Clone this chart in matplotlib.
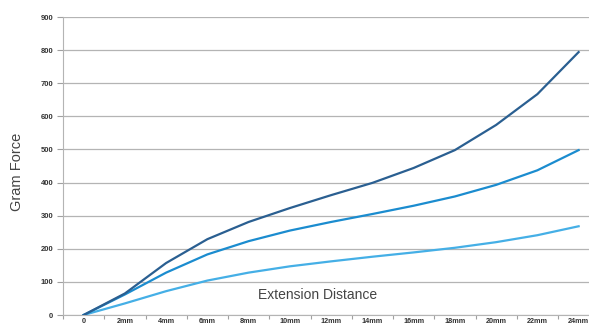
import matplotlib.pyplot as plt
import numpy as np

# extension distance in mm, gram force for the three samples
distance_mm = [0, 2, 4, 6, 8, 10, 12, 14, 16, 18, 20, 22, 24]
tick_labels = ["0"] + [f"{d}mm" for d in distance_mm[1:]]
force_dark = [0, 65, 157, 229, 281, 323, 362, 399, 444, 498, 574, 667, 794]
force_mid = [0, 62, 128, 183, 223, 255, 281, 305, 330, 358, 393, 437, 498]
force_light = [0, 35, 72, 104, 128, 147, 162, 176, 189, 203, 220, 241, 268]

plt.rcParams['font.family'] = ['Liberation Sans', 'DejaVu Sans']

W, H = 589, 327
fig = plt.figure(figsize=(W / 100, H / 100), dpi=100)
# plot area in pixels: left spine at x=63, 0 at y=315, 900 at y=17
x0, y0, y900 = 63, 315, 17
step = (578 - 83) / 12  # pixels per 2mm category
ax = fig.add_axes([x0 / W, (H - y0) / H, 13 * step / W, (y0 - y900) / H])

ax.plot(distance_mm, force_light, color="#45afe6", lw=1.6, zorder=3)
ax.plot(distance_mm, force_mid, color="#1b8ccf", lw=1.6, zorder=3)
ax.plot(distance_mm, force_dark, color="#2a5f91", lw=1.6, zorder=3)

ax.set_xlim(-1, 25)
ax.set_ylim(0, 900)

ax.set_yticks(np.arange(0, 901, 100))
ax.tick_params(axis="y", length=4, width=0.8, color="#a0a0a0", pad=3,
               labelsize=5.5, labelcolor="#333333")
for lbl in ax.get_yticklabels():
    lbl.set_fontweight("bold")
ax.grid(axis="y", color="#b4b4b4", lw=0.9, zorder=0)

# category labels sit between the minor (boundary) ticks, as in the original
ax.set_xticks(distance_mm)
ax.set_xticklabels(tick_labels, fontsize=5.2, fontweight="bold", color="#333333")
ax.set_xticks(np.arange(-1, 26, 2), minor=True)
ax.tick_params(axis="x", which="major", length=0, pad=2.5)
ax.tick_params(axis="x", which="minor", length=3, width=0.8, color="#a0a0a0",
               direction="out")

for side in ["top", "right"]:
    ax.spines[side].set_visible(False)
ax.spines["left"].set_color("#b4b4b4")
ax.spines["bottom"].set_color("#b4b4b4")

ax.text(11.35, 60, "Extension Distance", ha="center", va="center",
        fontsize=10, color="#444444")
fig.text(17 / W, 1 - 172 / H, "Gram Force", rotation=90, ha="center",
         va="center", fontsize=10.5, color="#444444")

fig.savefig("out.png", dpi=100)
